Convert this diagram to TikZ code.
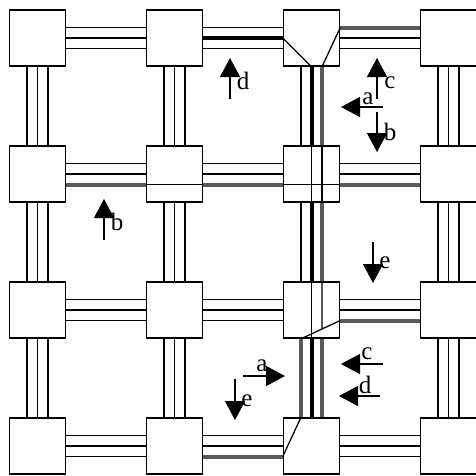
\documentclass[tikz,border=0pt]{standalone}
\usepackage{fontspec}
\setmainfont{Liberation Serif}
\usetikzlibrary{arrows.meta,calc}
\definecolor{routeink}{HTML}{5A5A5A}
\tikzset{
  switchbox/.style={draw=black,fill=white,line width=1.5pt,
    minimum size=56pt,inner sep=0pt},
  linkwire/.style={draw=black,line width=1.3pt},
  crossline/.style={draw=black,line width=1.3pt},
  routeblack/.style={draw=black,line width=4pt},
  routegray/.style={draw=routeink,line width=4pt},
  flowarrow/.style={draw=black,line width=1.3pt,-{Triangle[length=19pt,width=20pt]}},
  flowlabel/.style={inner sep=0pt,font=\fontsize{25}{25}\selectfont},
}
\begin{document}
\begin{tikzpicture}[x=1pt,y=-1pt]
  \fill[white] (0,0) rectangle (476,475);
  \useasboundingbox (0,0) rectangle (476,475);
  % switch boxes, b<row><column>
  \foreach \r/\y in {1/38,2/174,3/310,4/446}
    \foreach \c/\x in {1/37.5,2/174.5,3/311.5,4/448.5}
      {\node[switchbox] (b\r\c) at (\x,\y) {};}
  % three-wire links
  \foreach \r in {1,...,4}
    \foreach \c/\n in {1/2,2/3,3/4}
      \foreach \o in {-10.5,0,10.5}
        {\draw[linkwire] ([yshift=\o pt]b\r\c.east) -- ([yshift=\o pt]b\r\n.west);}
  \foreach \c in {1,...,4}
    \foreach \r/\n in {1/2,2/3,3/4}
      \foreach \o in {-10.5,0,10.5}
        {\draw[linkwire] ([xshift=\o pt]b\r\c.south) -- ([xshift=\o pt]b\n\c.north);}
  % routes
  \draw[routeblack] (b12.east) -- (b13.west);
  \foreach \r/\n in {1/2,2/3,3/4}
    {\draw[routeblack] (b\r3.south) -- (b\n3.north);}
  \draw[routegray] ([yshift=10.5pt]b13.east) -- ([yshift=10.5pt]b14.west);
  \foreach \r/\n in {1/2,2/3,3/4}
    {\draw[routegray] ([xshift=10.5pt]b\r3.south) -- ([xshift=10.5pt]b\n3.north);}
  \foreach \c/\n in {1/2,2/3,3/4}
    {\draw[routegray] ([yshift=-10.5pt]b2\c.east) -- ([yshift=-10.5pt]b2\n.west);}
  \draw[routegray] ([yshift=-10.5pt]b33.east) -- ([yshift=-10.5pt]b34.west);
  \draw[routegray] ([xshift=-10.5pt]b33.south) -- ([xshift=-10.5pt]b43.north);
  \draw[routegray] ([yshift=-10.5pt]b42.east) -- ([yshift=-10.5pt]b43.west);
  % wiring inside the boxes
  \draw[crossline] (b13.west) -- (b13.south);
  \draw[crossline] ([yshift=10.5pt]b13.east) -- ([xshift=10.5pt]b13.south);
  \foreach \r in {2,3}
    {\draw[crossline] (b\r3.north) -- (b\r3.south);}
  \draw[crossline] ([xshift=10.5pt]b23.north) -- ([xshift=10.5pt]b23.south);
  \foreach \c in {2,3}
    {\draw[crossline] ([yshift=-10.5pt]b2\c.west) -- ([yshift=-10.5pt]b2\c.east);}
  \coordinate (g3in) at ([yshift=-10.5pt]b33.east);
  \coordinate (g3out) at ([xshift=-10.5pt]b33.south);
  \coordinate (w3top) at ([xshift=10.5pt]b33.north);
  \coordinate (w3bot) at ([xshift=10.5pt]b33.south);
  \draw[crossline] (g3in) -- (g3out);
  \draw[crossline] (w3top) -- (intersection of w3top--w3bot and g3in--g3out);
  \draw[crossline] ([xshift=-10.5pt]b43.north) -- ([yshift=-10.5pt]b43.west);
  % flow arrows and their letters
  \foreach \x/\y/\dx/\dy/\lx/\ly/\t [count=\i] in {
      230/99/0/-41/243/81/d, 377/99/0/-41/390/83/c, 383/107/-42/0/368/99/a,
      377/112/0/40/390/132/b, 104/240/0/-41/117/222/b, 373/242/0/41/385/263/e,
      243/376/42/0/262/366/a, 235/379/0/41/247/401/e, 383/364/-42/0/367/354/c,
      380/396/-41/0/365/385/d}
    {\draw[flowarrow] (\x,\y) -- ++(\dx,\dy);
     \node[flowlabel] (flow\i) at (\lx,\ly) {\t};}
\end{tikzpicture}
\end{document}
